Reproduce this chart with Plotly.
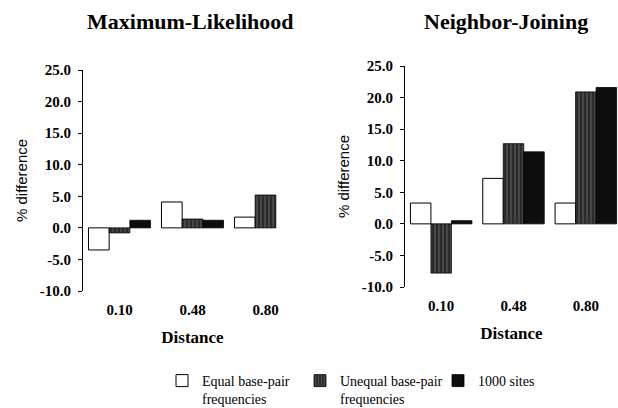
import plotly.graph_objects as go

# ---- data ----
distances = ["0.10", "0.48", "0.80"]
series_names = ["Equal base-pair<br>frequencies", "Unequal base-pair<br>frequencies", "1000 sites"]
ml_equal = [-3.5, 4.1, 1.7]
ml_unequal = [-0.8, 1.4, 5.2]
ml_1000 = [1.2, 1.2, None]
nj_equal = [3.3, 7.2, 3.3]
nj_unequal = [-7.8, 12.7, 20.9]
nj_1000 = [0.5, 11.4, 21.6]
ytick_vals = [-10, -5, 0, 5, 10, 15, 20, 25]
ytick_text = ["-10.0", "-5.0", "0.0", "5.0", "10.0", "15.0", "20.0", "25.0"]
panel_titles = ["Maximum-Likelihood", "Neighbor-Joining"]

W, H = 618, 408
SERIF = "Liberation Serif, Times New Roman, serif"
SANS = "Liberation Sans Narrow, Arial Narrow, Liberation Sans, sans-serif"

styles = [
    dict(marker=dict(color="white", line=dict(color="black", width=1))),
    dict(marker=dict(color="#2b2b2b", line=dict(color="black", width=0.8),
                     pattern=dict(shape="|", fgcolor="#b5b5b5", size=4, solidity=0.2))),
    dict(marker=dict(color="#0d0d0d", line=dict(color="black", width=0.8))),
]

fig = go.Figure()
panels = [(ml_equal, ml_unequal, ml_1000), (nj_equal, nj_unequal, nj_1000)]
for p, vals in enumerate(panels):
    xa = "x" if p == 0 else "x2"
    ya = "y" if p == 0 else "y2"
    for s, v in enumerate(vals):
        fig.add_trace(go.Bar(x=distances, y=v, name=series_names[s], xaxis=xa, yaxis=ya,
                             showlegend=(p == 0), legendgroup=str(s), **styles[s]))

yr = [-10, 25]
left_dom_x = [83 / W, 302 / W]
left_dom_y = [1 - 291 / H, 1 - 70 / H]
right_dom_x = [405 / W, 1.0]
right_dom_y = [1 - 287 / H, 1 - 66 / H]
cat_px = (622 - 405) / 3
right_range = [-0.5, -0.5 + (W - 405) / cat_px]

def zero_pos(dom):
    return dom[0] + (0 - yr[0]) / (yr[1] - yr[0]) * (dom[1] - dom[0])

tickfont = dict(family=SERIF, size=15, color="black", weight="bold")
yaxis_common = dict(range=yr, tickvals=ytick_vals, ticktext=ytick_text, showline=True,
                    linecolor="black", linewidth=1, ticks="outside", ticklen=4, tickcolor="black",
                    showgrid=False, zeroline=False, tickfont=tickfont, automargin=False,
                    ticklabelstandoff=4,
                    title=dict(text="% difference", font=dict(family=SANS, size=15, color="black"), standoff=8))
xaxis_common = dict(showline=False, ticks="", showgrid=False, zeroline=False, tickfont=tickfont,
                    automargin=False, ticklabelstandoff=8,
                    title=dict(text="Distance", font=dict(family=SERIF, size=17, color="black", weight="bold"), standoff=14))
xline_common = dict(type="linear", range=[-0.5, 2.5], tickvals=[0.5, 1.5, 2.5], showline=True,
                    linecolor="black", linewidth=1, ticks="outside", ticklen=4, tickcolor="black",
                    showticklabels=False, showgrid=False, zeroline=False, anchor="free", automargin=False)

fig.update_layout(
    width=W, height=H, margin=dict(l=0, r=0, t=0, b=0, autoexpand=False), autosize=False,
    paper_bgcolor="white", plot_bgcolor="rgba(0,0,0,0)",
    barmode="group", bargap=0.15, bargroupgap=0,
    xaxis=dict(domain=left_dom_x, anchor="y", type="category", range=[-0.5, 2.5], **xaxis_common),
    yaxis=dict(domain=left_dom_y, anchor="x", **yaxis_common),
    xaxis2=dict(domain=right_dom_x, anchor="y2", type="category", range=right_range, **xaxis_common),
    yaxis2=dict(domain=right_dom_y, anchor="x2", **yaxis_common),
    xaxis3=dict(domain=left_dom_x, overlaying="x", position=zero_pos(left_dom_y), **xline_common),
    xaxis4=dict(domain=right_dom_x, overlaying="x2", position=zero_pos(right_dom_y),
                **{**xline_common, "range": right_range}),
    legend=dict(orientation="h", x=162 / W, xanchor="left", y=1 - 365 / H, yanchor="top",
                valign="top", font=dict(family=SERIF, size=14, color="black"),
                entrywidth=93, entrywidthmode="pixels",
                bgcolor="rgba(0,0,0,0)", itemclick=False),
    annotations=[
        dict(text="<b>" + panel_titles[0] + "</b>", x=190 / W, y=1 - 21 / H, xref="paper", yref="paper",
             showarrow=False, xanchor="center", yanchor="middle",
             font=dict(family=SERIF, size=22, color="black")),
        dict(text="<b>" + panel_titles[1] + "</b>", x=506 / W, y=1 - 21 / H, xref="paper", yref="paper",
             showarrow=False, xanchor="center", yanchor="middle",
             font=dict(family=SERIF, size=22, color="black")),
    ],
)

fig.write_html("out.html", config={"displayModeBar": False},
               post_script="document.body.style.margin='0';")
